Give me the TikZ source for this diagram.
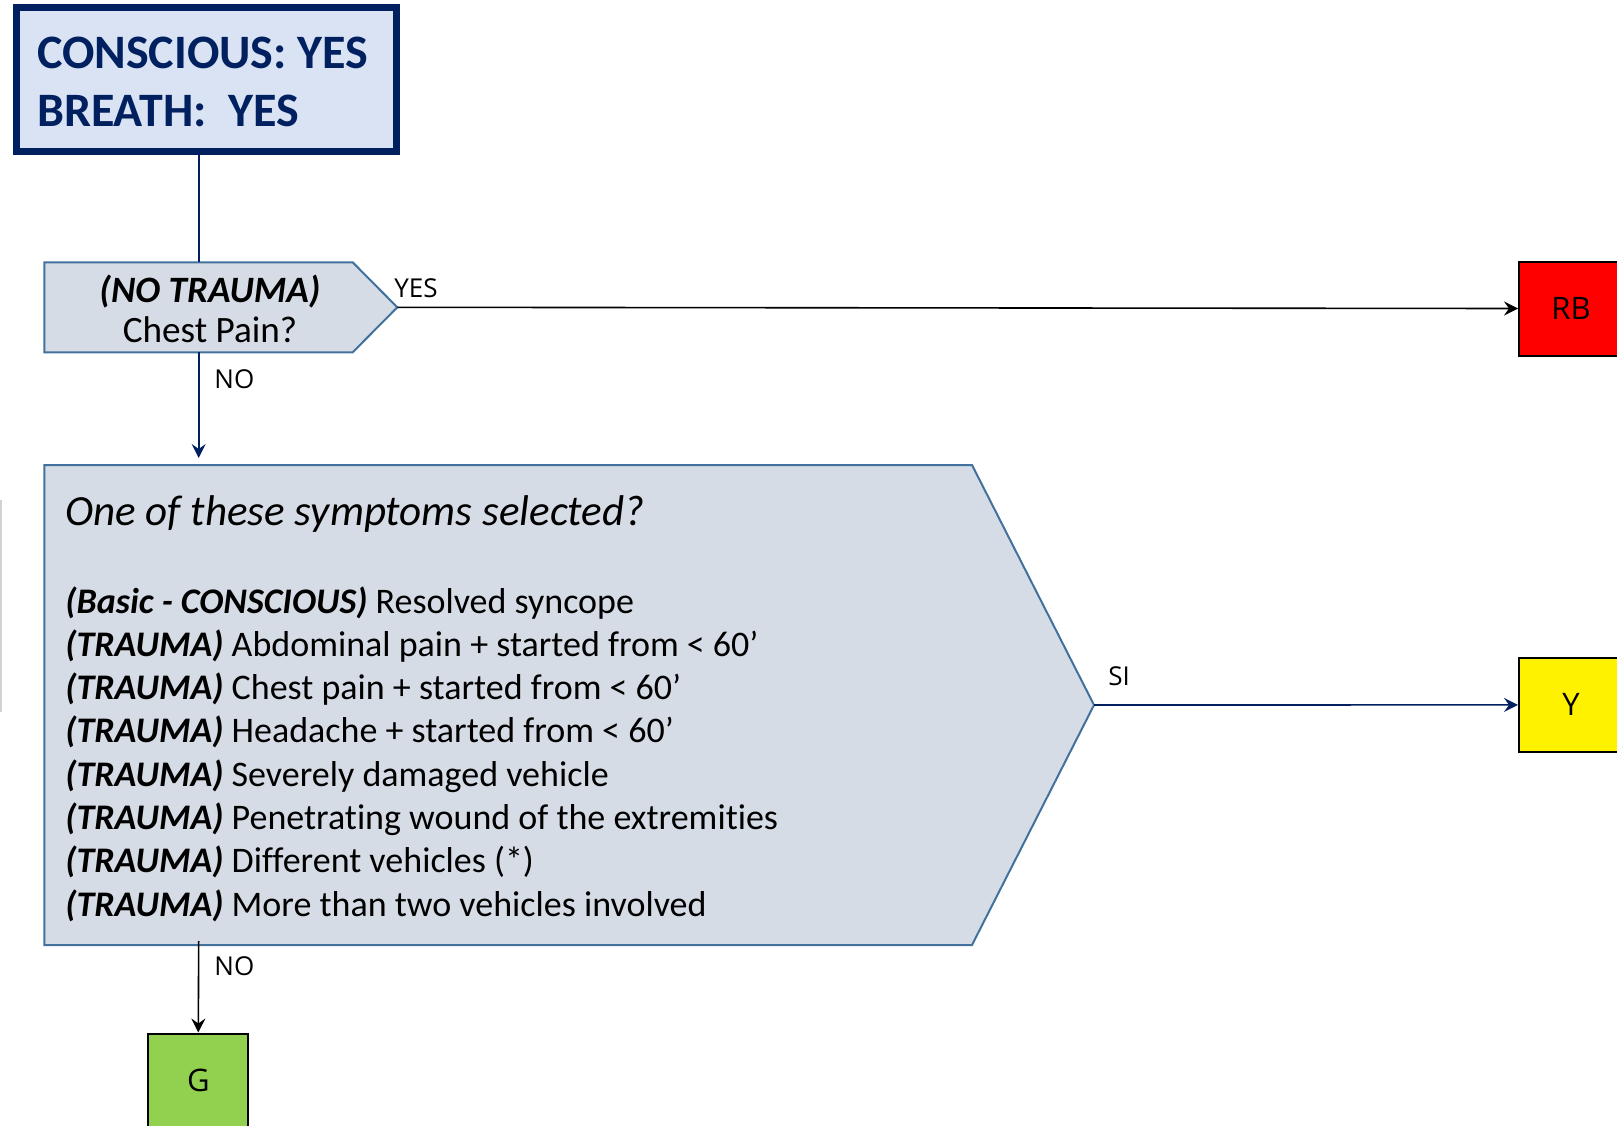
\documentclass[tikz,border=0pt]{standalone}
\usepackage{fontspec}
\setmainfont{Carlito}[Ligatures={TeX,NoCommon,NoRequired,NoContextual},Contextuals=NoAlternate]
\newfontfamily\labelfont{Open Sans}
\usetikzlibrary{arrows.meta}
\definecolor{navy}{HTML}{002060}
\definecolor{boxblue}{HTML}{DAE3F3}
\definecolor{decfill}{HTML}{D6DCE5}
\definecolor{decline}{HTML}{41719C}
\definecolor{okgreen}{HTML}{92D050}
\tikzset{
  startbox/.style={rectangle,draw=navy,line width=3.5pt,fill=boxblue,minimum width=190pt,minimum height=72pt,inner sep=0pt},
  starttext/.style={anchor=base west,inner sep=0pt,text=navy,font=\fontsize{24}{28}\selectfont\bfseries},
  decision/.style={draw=decline,fill=decfill,line width=1pt},
  dectext/.style={anchor=base,inner sep=0pt,font=\fontsize{18.6}{23}\selectfont},
  symtext/.style={anchor=base west,inner sep=0pt,font=\fontsize{18}{22}\selectfont},
  colorbox/.style={rectangle,draw=black,line width=1pt,minimum width=52pt,minimum height=47pt,inner sep=0pt,font=\labelfont\fontsize{15.5}{18}\selectfont},
  branch/.style={anchor=base west,inner sep=0pt,font=\labelfont\fontsize{13}{15}\selectfont},
  flow/.style={line width=0.8pt,-{Stealth[length=7pt,width=7pt,inset=2.5pt]}}
}
\begin{document}
\begin{tikzpicture}[x=0.5pt,y=-0.5pt]
\useasboundingbox (0,0) rectangle (1617,1125);
%\draw[gray!40] (1,500) -- (1,712);
\draw[gray!35,line width=1pt] (1,500) -- (1,712);

% start
\path (206.3,79.9) node(start) [startbox]{};
\node (startone) [starttext] at (36.7,68) {CONSCIOUS: YES};
\node (starttwo) [starttext] at (36.7,126) {BREATH:\ \ YES};

% first question
\draw[decision] (44.3,262.3) -- (352.7,262.3) -- (397.3,307.3) -- (352.7,352.3) -- (44.3,352.3) -- cycle;
\coordinate (qonen) at (198.7,262.3);
\coordinate (qones) at (198.7,352.3);
\coordinate (qonetip) at (397.3,307.3);
\node (qonea) [dectext] at (210,302) {\bfseries\itshape (NO TRAUMA)};
\node (qoneb) [dectext] at (210,342) {Chest Pain?};

% second question
\draw[decision] (44.3,465) -- (972,465) -- (1094,705) -- (972,945) -- (44.3,945) -- cycle;
\coordinate (qtwon) at (198.7,458);
\coordinate (qtwos) at (198.7,941);
\coordinate (qtwotip) at (1094,705);
\node (qtwotitle) [symtext,font=\fontsize{21.5}{26}\selectfont\itshape] at (65,525) {One of these symptoms selected?};
\foreach \i/\lbl/\txt in {0/{Basic - CONSCIOUS}/{Resolved syncope},
  1/TRAUMA/{Abdominal pain + started from < 60'},
  2/TRAUMA/{Chest pain + started from < 60'},
  3/TRAUMA/{Headache + started from < 60'},
  4/TRAUMA/{Severely damaged vehicle},
  5/TRAUMA/{Penetrating wound of the extremities},
  6/TRAUMA/{Different vehicles (*)},
  7/TRAUMA/{More than two vehicles involved}}
  \node (sym\i) [symtext] at (65,613+43.3*\i) {\textbf{\textit{(\lbl)}} \txt};

% outcomes
\path (1571,308.5) node(rb) [colorbox,fill=red]{RB};
\path (1571,704.9) node(yel) [colorbox,fill=yellow]{Y};
\path (198.3,1080.5) node(grn) [colorbox,fill=okgreen,minimum width=50pt]{G};

% connectors
\draw[navy,line width=0.8pt] (start.south -| qonen) -- (qonen);
\draw[flow,navy] (qones) -- (qtwon);
\node (noone) [branch] at (214,388) {NO};
\draw[flow,black] (qonetip) -- (rb.west);
\node (yesone) [branch] at (394,297) {YES};
\draw[flow,navy] (qtwotip) -- (yel.west);
\node (situ) [branch] at (1108,685) {SI};
\draw[flow,black] (qtwos) -- (grn.north);
\node (notwo) [branch] at (214,975) {NO};
\end{tikzpicture}
\end{document}
